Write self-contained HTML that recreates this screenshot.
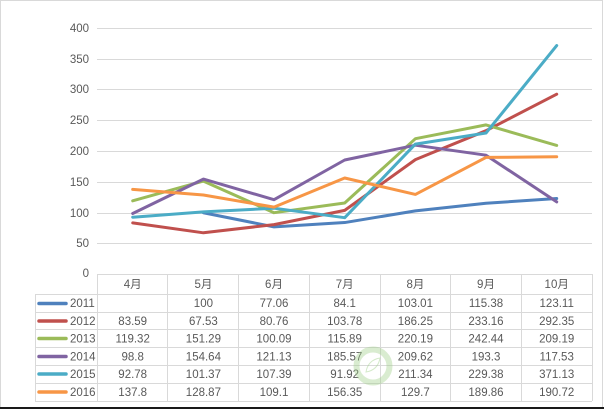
<!DOCTYPE html>
<html><head><meta charset="utf-8">
<style>
html,body{margin:0;padding:0;background:#fff;}
body{width:604px;height:409px;overflow:hidden;position:relative;}
svg{position:absolute;left:0;top:0;}
text{font-family:"Liberation Sans","Noto Sans CJK SC",sans-serif;font-size:11.5px;fill:#595959;}
</style></head>
<body>
<svg width="604" height="409" viewBox="0 0 604 409" xmlns="http://www.w3.org/2000/svg">
<rect x="0.5" y="0.5" width="602" height="408" fill="#fff" stroke="#d9d9d9" stroke-width="1"/>
<rect x="0" y="407" width="604" height="2" fill="#1a1a1a"/>
<g stroke="#d9d9d9" stroke-width="1">
<line x1="97" y1="28.5" x2="592" y2="28.5"/>
<line x1="97" y1="59.5" x2="592" y2="59.5"/>
<line x1="97" y1="89.5" x2="592" y2="89.5"/>
<line x1="97" y1="120.5" x2="592" y2="120.5"/>
<line x1="97" y1="151.5" x2="592" y2="151.5"/>
<line x1="97" y1="182.5" x2="592" y2="182.5"/>
<line x1="97" y1="213.5" x2="592" y2="213.5"/>
<line x1="97" y1="243.5" x2="592" y2="243.5"/>
<!-- table -->
<line x1="97" y1="274.5" x2="592" y2="274.5"/>
<line x1="35" y1="294.5" x2="592" y2="294.5"/>
<line x1="35" y1="312.5" x2="592" y2="312.5"/>
<line x1="35" y1="329.5" x2="592" y2="329.5"/>
<line x1="35" y1="347.5" x2="592" y2="347.5"/>
<line x1="35" y1="365.5" x2="592" y2="365.5"/>
<line x1="35" y1="383.5" x2="592" y2="383.5"/>
<line x1="35" y1="401.5" x2="592" y2="401.5"/>
<line x1="35.5" y1="294" x2="35.5" y2="401"/>
<line x1="97.5" y1="274" x2="97.5" y2="401"/>
<line x1="167.5" y1="274" x2="167.5" y2="401"/>
<line x1="238.5" y1="274" x2="238.5" y2="401"/>
<line x1="309.5" y1="274" x2="309.5" y2="401"/>
<line x1="380.5" y1="274" x2="380.5" y2="401"/>
<line x1="450.5" y1="274" x2="450.5" y2="401"/>
<line x1="521.5" y1="274" x2="521.5" y2="401"/>
<line x1="592.5" y1="274" x2="592.5" y2="401"/>
</g>
<g text-anchor="end">
<text x="89" y="32">400</text>
<text x="89" y="63">350</text>
<text x="89" y="93">300</text>
<text x="89" y="124">250</text>
<text x="89" y="155">200</text>
<text x="89" y="186">150</text>
<text x="89" y="217">100</text>
<text x="89" y="247">50</text>
<text x="89" y="277">0</text>
</g>
<g fill="none" stroke-width="3" stroke-linejoin="round" stroke-linecap="round">
<polyline stroke="#4F81BD" points="203.4,212.75 274,226.9 344.7,222.55 415.4,210.9 486,203.3 556.7,198.5"/>
<polyline stroke="#C0504D" points="132.7,222.9 203.4,232.8 274,224.6 344.7,210.4 415.4,159.6 486,130.7 556.7,94.2"/>
<polyline stroke="#9BBB59" points="132.7,200.8 203.4,181.1 274,212.7 344.7,203.0 415.4,138.7 486,124.9 556.7,145.4"/>
<polyline stroke="#8064A2" points="132.7,213.5 203.4,179.1 274,199.7 344.7,160.0 415.4,145.2 486,155.2 556.7,201.9"/>
<polyline stroke="#4BACC6" points="132.7,217.2 203.4,211.9 274,208.2 344.7,217.7 415.4,144.1 486,133.0 556.7,45.6"/>
<polyline stroke="#F79646" points="132.7,189.4 203.4,195.0 274,207.1 344.7,178.0 415.4,194.4 486,157.4 556.7,156.8"/>
</g>
<g text-anchor="middle">
<text x="132.7" y="288">4月</text>
<text x="203.4" y="288">5月</text>
<text x="274" y="288">6月</text>
<text x="344.7" y="288">7月</text>
<text x="415.4" y="288">8月</text>
<text x="486" y="288">9月</text>
<text x="556.7" y="288">10月</text>

<text x="203.4" y="307">100</text><text x="274" y="307">77.06</text><text x="344.7" y="307">84.1</text><text x="415.4" y="307">103.01</text><text x="486" y="307">115.38</text><text x="556.7" y="307">123.11</text>

<text x="132.7" y="325">83.59</text><text x="203.4" y="325">67.53</text><text x="274" y="325">80.76</text><text x="344.7" y="325">103.78</text><text x="415.4" y="325">186.25</text><text x="486" y="325">233.16</text><text x="556.7" y="325">292.35</text>

<text x="132.7" y="342.5">119.32</text><text x="203.4" y="342.5">151.29</text><text x="274" y="342.5">100.09</text><text x="344.7" y="342.5">115.89</text><text x="415.4" y="342.5">220.19</text><text x="486" y="342.5">242.44</text><text x="556.7" y="342.5">209.19</text>

<text x="132.7" y="360.5">98.8</text><text x="203.4" y="360.5">154.64</text><text x="274" y="360.5">121.13</text><text x="344.7" y="360.5">185.57</text><text x="415.4" y="360.5">209.62</text><text x="486" y="360.5">193.3</text><text x="556.7" y="360.5">117.53</text>

<text x="132.7" y="378">92.78</text><text x="203.4" y="378">101.37</text><text x="274" y="378">107.39</text><text x="344.7" y="378">91.92</text><text x="415.4" y="378">211.34</text><text x="486" y="378">229.38</text><text x="556.7" y="378">371.13</text>

<text x="132.7" y="396">137.8</text><text x="203.4" y="396">128.87</text><text x="274" y="396">109.1</text><text x="344.7" y="396">156.35</text><text x="415.4" y="396">129.7</text><text x="486" y="396">189.86</text><text x="556.7" y="396">190.72</text>
</g>
<g stroke-width="3.5" stroke-linecap="round">
<line x1="39" y1="303.5" x2="66" y2="303.5" stroke="#4F81BD"/>
<line x1="39" y1="321" x2="66" y2="321" stroke="#C0504D"/>
<line x1="39" y1="338.5" x2="66" y2="338.5" stroke="#9BBB59"/>
<line x1="39" y1="356.5" x2="66" y2="356.5" stroke="#8064A2"/>
<line x1="39" y1="374" x2="66" y2="374" stroke="#4BACC6"/>
<line x1="39" y1="392" x2="66" y2="392" stroke="#F79646"/>
</g>
<text x="70" y="307">2011</text>
<text x="70" y="325">2012</text>
<text x="70" y="342.5">2013</text>
<text x="70" y="360.5">2014</text>
<text x="70" y="378">2015</text>
<text x="70" y="396">2016</text>
<circle cx="373" cy="366" r="16.5" fill="none" stroke="#9fd08a" stroke-opacity="0.4" stroke-width="6"/>
<path d="M366,372 Q368,360 380,358 Q378,370 366,372 Z" fill="none" stroke="#9fd08a" stroke-opacity="0.45" stroke-width="1"/>
</svg>
</body></html>
